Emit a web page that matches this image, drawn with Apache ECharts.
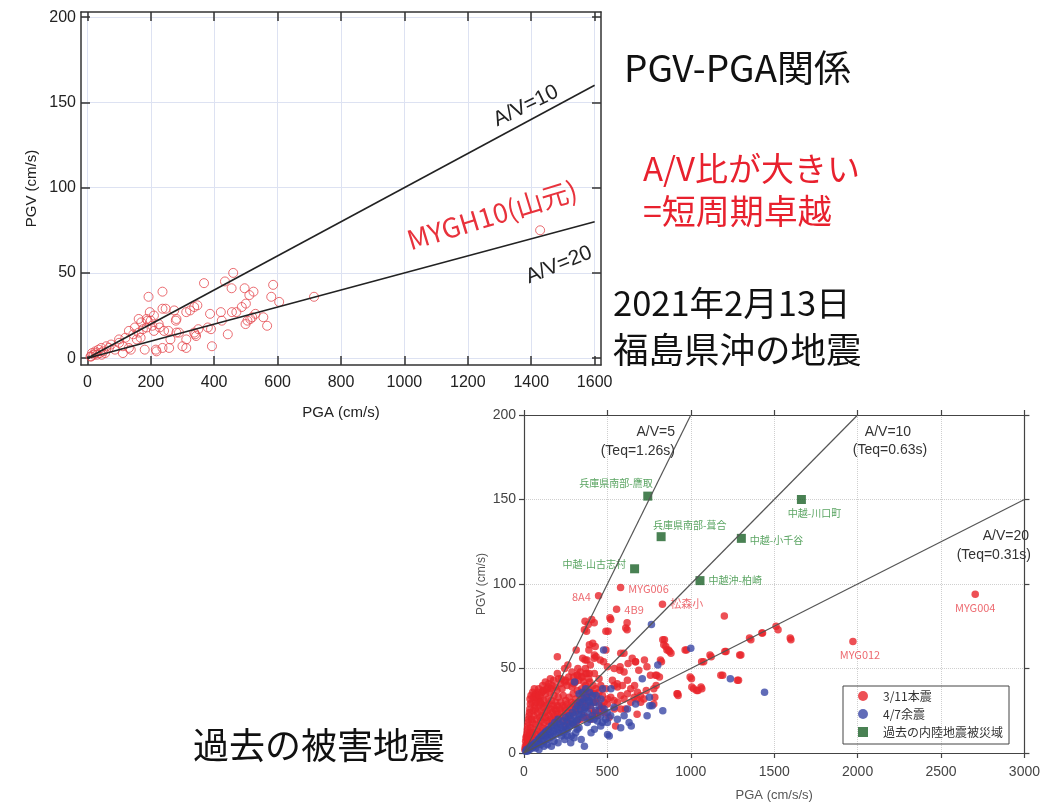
<!DOCTYPE html>
<html><head><meta charset="utf-8">
<script src="https://cdn.jsdelivr.net/npm/echarts@6/dist/echarts.min.js"></script>
<style>html,body{margin:0;padding:0;background:#fff}#c{width:1043px;height:803px}</style>
</head><body><div id="c"></div>
<script>
// ---------- top chart (2021/2/13 Fukushima-oki) ----------
const topXTicks = [0, 200, 400, 600, 800, 1000, 1200, 1400, 1600];
const topYTicks = [0, 50, 100, 150, 200];
const topPoints = [
 [1428,75],[715,36],[460,50],[434,45],[368,44],[586,43],[455,41],[496,41],[524,39],[511,37],
 [580,36],[605,33],[237,39],[193,36],[197,27],[237,29],[274,28],[312,27],[337,30],[324,28],
 [347,31],[387,26],[421,27],[456,27],[487,30],[555,24],[514,23],[505,22],[499,20],[567,19],
 [424,22],[443,14],[393,7],[380,18],[337,15],[343,13],[312,11],[312,6],[281,15],[262,11],
 [281,23],[256,16],[237,6],[218,4],[181,5],[162,15],[162,23],[187,23],[187,18],[156,11],
 [131,16],[131,6],[112,7],[112,3],[100,11],[87,5],[56,3],[44,6],[25,4],[12,1],
 [75,8],[247,29],[200,22],[279,22],[190,22],[210,16],[242,16],[289,15],[168,12],[100,9],
 [137,5],[216,5],[258,6],[300,7],[68,6],[26,3],[10,1],[30,2],[35,5],[40,3],
 [50,4],[20,2],[60,7],[15,3],[45,2],[120,12],[145,14],[175,17],[205,19],[225,20],
 [150,18],[170,21],[210,25],[228,18],[350,17],[340,14],[520,24],[530,26],[470,27],[390,17],[500,32]
];
const topLineEnds = [[1600,160],[1600,80]];   // A/V=10, A/V=20

// ---------- bottom chart (past damaging earthquakes) ----------
const botLineEnds = [[1000,200],[2000,200],[3000,150]]; // A/V=5,10,20
const mainShockLabeled = [
 ['8A4',447,93],['MYG006',579,98],['4B9',555,85],['松森小',830,88],['MYG004',2705,94],['MYG012',1972,66]
];
const mainShock = [
 [385,76],[421,77],[375,72],[520,79],[618,77],[618,73],[504,72],[1201,81],[842,67],[850,63],
 [866,61],[881,59],[974,61],[200,57],[389,61],[427,63],[377,55],[421,56],[599,59],[668,54],
 [722,55],[500,51],[575,49],[624,53],[688,49],[737,51],[287,48],[322,46],[346,45],[371,47],
 [450,44],[559,41],[1004,44],[1017,38],[1043,37],[1066,38],[1077,54],[1122,57],[1211,60],[1191,46],
 [1286,43],[1300,58],[1360,67],[1430,71],[1511,75],[1523,73],[1600,67],[924,34],[792,40],[812,45],
 [796,46],[678,23],[678,32],[608,26],[549,16],[510,21],[366,78],[406,79],[362,73],[515,80],
 [491,72],[610,74],[580,59],[313,61],[392,64],[412,65],[422,58],[432,57],[352,56],[366,55],
 [491,61],[263,52],[244,50],[323,50],[392,47],[422,47],[457,55],[477,54],[541,50],[576,51],
 [649,56],[669,54],[600,48],[620,43],[200,47],[224,44],[244,42],[299,41],[144,39],[160,38],
 [115,37],[65,34],[85,32],[36,32],[530,43],[541,40],[560,39],[590,40],[640,38],[663,40],
 [699,34],[719,32],[501,32],[465,28],[541,26],[580,26],[402,26],[422,23],[758,46],[917,35],
 [778,38],[818,55],[832,67],[838,64],[857,61],[873,60],[824,54],[788,46],[784,33],[778,29],
 [733,37],[1115,58],[1065,54],[966,61],[1180,46],[1279,43],[996,45],[1006,39],[1035,37],[1061,39],
 [921,35],[1352,68],[1426,71],[1596,68],[1204,60],[1293,58],
 [10,3],[15,5],[20,4],[20,8],[25,6],[30,10],[30,5],[35,12],[40,8],[40,15],
 [45,10],[45,20],[50,6],[50,12],[50,18],[55,25],[60,9],[60,14],[60,22],[65,28],
 [70,11],[70,17],[70,30],[75,20],[80,13],[80,24],[85,36],[90,16],[90,28],[95,21],
 [100,12],[100,19],[100,25],[100,33],[105,29],[110,15],[110,22],[115,27],[120,18],[120,31],
 [125,24],[130,14],[130,21],[130,35],[135,28],[140,19],[140,25],[145,32],[150,16],[150,22],
 [150,29],[155,36],[160,20],[160,26],[165,31],[170,18],[170,24],[175,28],[180,22],[180,34],
 [185,26],[190,20],[190,30],[195,25],[200,18],[200,23],[200,28],[205,33],[210,21],[215,26],
 [220,30],[225,24],[230,19],[230,28],[235,34],[240,22],[245,27],[250,25],[250,31],[255,20],
 [260,29],[265,24],[270,33],[275,27],[280,22],[285,30],[290,26],[295,35],[300,29],[305,24],
 [310,32],[315,27],[320,37],[325,30],[330,25],[335,34],[340,29],[345,38],[350,32],[355,27],
 [360,36],[365,31],[370,40],[375,34],[380,28],[385,38],[390,33],[395,42],[400,36],[410,30],
 [415,40],[420,35],[430,38],[440,32],[450,36],[460,40],[470,34],[480,30],[490,38],[20,14],
 [25,18],[30,22],[35,26],[15,10],[10,7],[5,2],[8,4],[12,9],[18,12],[22,16],
 [28,20],[33,24],[38,29],[42,34],[48,30],[52,36],[58,33],[62,38],[68,26],[72,35],
 [78,32],[88,38],[92,34],[98,30],[108,36],[112,40],[118,37],[128,42],[138,38],[148,41],
 [158,44],[168,40],[178,43],[188,39],[198,37],[208,44],[218,41],[228,38],[248,43],[258,40],
 [268,45],[278,42],[288,39],[298,45],[308,42],[318,46],[328,43],[338,48],[348,45],[358,42],
 [368,50],[378,47],[388,44],[398,52],
 [430,30],[450,25],[470,27],[500,29],[520,33],[540,31],[560,30],[580,34],[600,32],[620,35],
 [640,30],[660,33],[680,36],[700,30],[250,16],[270,18],[300,17],[320,19],[340,20],[360,22],
 [380,21],[400,20],[420,24],[440,22],[460,26],[480,24]
];
const aftershock = [
 [764,76],[1000,62],[802,52],[709,44],[1237,44],[1442,36],[752,33],[768,28],[754,28],[832,25],
 [738,22],[477,61],[303,42],[471,38],[521,38],[392,36],[432,34],[461,32],[669,29],[620,26],
 [630,18],[643,16],[501,11],[511,10],[362,26],[343,23],[323,20],[293,17],[263,14],[422,14],
 [402,12],[204,20],[184,18],[164,16],[125,12],[105,10],[85,8],[224,10],[244,8],[283,10],
 [164,4],[204,6],[343,8],[362,4],[46,4],[26,2],
 [10,1],[15,2],[20,1],[30,3],[35,2],[40,4],[50,3],[55,5],[60,4],[65,6],
 [70,3],[75,5],[80,7],[90,6],[95,9],[100,5],[110,8],[115,11],[120,7],[130,10],
 [135,13],[140,8],[145,11],[150,14],[155,9],[160,12],[170,10],[175,15],[180,13],[190,11],
 [195,16],[200,14],[210,12],[215,17],[220,15],[230,13],[235,19],[240,16],[250,21],[255,14],
 [260,18],[270,22],[275,16],[280,20],[290,24],[295,18],[300,22],[310,26],[315,19],[320,28],
 [330,23],[335,30],[340,26],[350,30],[355,21],[360,32],[370,27],[375,33],[380,24],[390,30],
 [395,20],[400,28],[410,22],[420,30],[430,25],[440,19],[450,28],[460,22],[470,18],[480,26],
 [490,20],[500,24],[520,22],[540,27],[560,20],[580,15],[600,22],[310,12],[330,15],[260,10],
 [240,12],[180,7],[140,5],[120,4],[90,2],[280,6],[300,9],[320,14],[380,18],[420,20],
 [460,16],[500,18],[330,35],[350,36],[370,38],[390,31],[410,34]
];
const pastQuakes = [
 ['兵庫県南部-鷹取',742,152],['兵庫県南部-葺合',822,128],['中越-山古志村',663,109],
 ['中越-小千谷',1303,127],['中越-川口町',1663,150],['中越沖-柏崎',1055,102]
];
const legendNames = ['3/11本震','4/7余震','過去の内陸地震被災域'];

// ---------- styling / layout ----------
const JP = '"Noto Sans CJK JP", "Noto Sans", sans-serif';
const SANS = '"Liberation Sans", Arial, sans-serif';
const plain = v => String(v);
const labelPlace = {
 '兵庫県南部-鷹取': {position:'top', align:'right', offset:[5,1]},
 '兵庫県南部-葺合': {position:'top', align:'left', offset:[-8,2]},
 '中越-山古志村': {position:'left', offset:[0,-5]},
 '中越-小千谷': {position:'right', offset:[0,2]},
 '中越-川口町': {position:'bottom', offset:[13,0]},
 '中越沖-柏崎': {position:'right', offset:[0,0]},
 '8A4': {position:'left', offset:[0,1]},
 'MYG006': {position:'right', offset:[0,1]},
 '4B9': {position:'right', offset:[0,0]},
 '松森小': {position:'right', offset:[0,0]},
 'MYG004': {position:'bottom', offset:[0,0]},
 'MYG012': {position:'bottom', offset:[7,0]}
};

const chart = echarts.init(document.getElementById('c'), null, {renderer:'canvas'});

function topAxisX(pos, showLabel) {
  return {
    type:'value', gridIndex:0, position:pos, min:-20, max:1620,
    axisLine:{show:true, onZero:false, lineStyle:{color:'#333', width:1.5}},
    axisTick:{show:true, inside:true, length:9, customValues:topXTicks, lineStyle:{color:'#333', width:1.5}},
    axisLabel:{show:showLabel, customValues:topXTicks, formatter:plain, fontSize:16, color:'#222', fontFamily:SANS, margin:10},
    splitLine:{show:showLabel, lineStyle:{color:'#dde2f2', width:1}},
    name: showLabel ? 'PGA (cm/s)' : '', nameLocation:'middle', nameGap:40,
    nameTextStyle:{fontSize:15, color:'#222', fontFamily:SANS}
  };
}
function topAxisY(pos, showLabel) {
  return {
    type:'value', gridIndex:0, position:pos, min:-4, max:203,
    axisLine:{show:true, onZero:false, lineStyle:{color:'#333', width:1.5}},
    axisTick:{show:true, inside:true, length:9, customValues:topYTicks, lineStyle:{color:'#333', width:1.5}},
    axisLabel:{show:showLabel, customValues:topYTicks, formatter:plain, fontSize:16, color:'#222', fontFamily:SANS, margin:5},
    splitLine:{show:showLabel, lineStyle:{color:'#dde2f2', width:1}},
    name: showLabel ? 'PGV (cm/s)' : '', nameLocation:'middle', nameGap:42,
    nameTextStyle:{fontSize:15, color:'#222', fontFamily:SANS}
  };
}
function botAxisX(pos, showLabel) {
  return {
    type:'value', gridIndex:1, position:pos, min:0, max:3000, interval:500,
    axisLine:{show:true, onZero:false, lineStyle:{color:'#444', width:1.2}},
    axisTick:{show:true, inside:false, length:5, lineStyle:{color:'#444', width:1.2}},
    axisLabel:{show:showLabel, formatter:plain, fontSize:14, color:'#444', fontFamily:SANS, margin:12},
    splitLine:{show:showLabel, lineStyle:{color:'#cfcfcf', width:1, type:'dotted'}},
    name: showLabel ? 'PGA (cm/s/s)' : '', nameLocation:'middle', nameGap:36,
    nameTextStyle:{fontSize:13, color:'#555', fontFamily:SANS}
  };
}
function botAxisY(pos, showLabel) {
  return {
    type:'value', gridIndex:1, position:pos, min:0, max:200, interval:50,
    axisLine:{show:true, onZero:false, lineStyle:{color:'#444', width:1.2}},
    axisTick:{show:true, inside:false, length:5, lineStyle:{color:'#444', width:1.2}},
    axisLabel:{show:showLabel, formatter:plain, fontSize:14, color:'#444', fontFamily:SANS, margin:8},
    splitLine:{show:showLabel, lineStyle:{color:'#cfcfcf', width:1, type:'dotted'}},
    name: showLabel ? 'PGV (cm/s)' : '', nameLocation:'middle', nameGap:36,
    nameTextStyle:{fontSize:12, color:'#555', fontFamily:SANS}
  };
}

const series = [];
series.push({
  type:'scatter', xAxisIndex:0, yAxisIndex:0, data:topPoints, symbol:'circle', symbolSize:9,
  itemStyle:{color:'rgba(255,255,255,0)', borderColor:'#e5484f', borderWidth:1}, z:2
});
topLineEnds.forEach(e => series.push({
  type:'line', xAxisIndex:0, yAxisIndex:0, data:[[0,0], e], showSymbol:false, symbol:'none',
  lineStyle:{color:'#222', width:1.6}, z:3, silent:true
}));
series.push({
  name:legendNames[0], type:'scatter', xAxisIndex:2, yAxisIndex:2, data:mainShock,
  symbol:'circle', symbolSize:7.5, itemStyle:{color:'#e8242b'}, z:2
});
series.push({
  name:legendNames[0], type:'scatter', xAxisIndex:2, yAxisIndex:2,
  data: mainShockLabeled.map(p => ({name:p[0], value:[p[1],p[2]],
    label:Object.assign({show:true}, labelPlace[p[0]])})),
  symbol:'circle', symbolSize:7.5, itemStyle:{color:'#e8242b'},
  label:{show:true, formatter:'{b}', fontSize:11, color:'#e8454c', fontFamily:JP, distance:4}, z:2
});
series.push({
  name:legendNames[1], type:'scatter', xAxisIndex:2, yAxisIndex:2, data:aftershock,
  symbol:'circle', symbolSize:7.5, itemStyle:{color:'#3a47a6'}, z:3
});
series.push({
  name:legendNames[2], type:'scatter', xAxisIndex:2, yAxisIndex:2,
  data: pastQuakes.map(p => ({name:p[0], value:[p[1],p[2]],
    label:Object.assign({show:true}, labelPlace[p[0]])})),
  symbol:'rect', symbolSize:9, itemStyle:{color:'#1b6128'},
  label:{show:true, formatter:'{b}', fontSize:10, color:'#2f8d3a', fontFamily:JP, distance:4}, z:4
});
botLineEnds.forEach(e => series.push({
  type:'line', xAxisIndex:2, yAxisIndex:2, data:[[0,0], e], showSymbol:false, symbol:'none',
  lineStyle:{color:'#555', width:1.2}, z:5, silent:true
}));

function txt(x, y, text, size, color, rot, family, align) {
  return {type:'text', x:x, y:y, rotation:(rot||0)*Math.PI/180, z:50,
    style:{text:text, fontSize:size, fill:color, fontFamily:family||JP,
      align:align||'center', verticalAlign:'middle'}};
}

const option = {
  animation:false,
  backgroundColor:'#fff',
  grid:[
    {left:81, top:12, width:520, height:353},
    {left:524, top:415, width:505, height:339}
  ],
  xAxis:[topAxisX('bottom', true), topAxisX('top', false), botAxisX('bottom', true), botAxisX('top', false)],
  yAxis:[topAxisY('left', true), topAxisY('right', false), botAxisY('left', true), botAxisY('right', false)],
  legend:{
    data:[{name:legendNames[0], icon:'circle'},{name:legendNames[1], icon:'circle'},{name:legendNames[2], icon:'rect'}],
    orient:'vertical', left:843, top:686, itemWidth:10, itemHeight:10, itemGap:4,
    padding:[3,6,5,15], borderColor:'#444', borderWidth:1, borderRadius:0,
    textStyle:{fontSize:12, color:'#333', fontFamily:JP, lineHeight:14, padding:[0,0,0,10]},
    selectedMode:false
  },
  series:series,
  graphic:[
    txt(624, 68, 'PGV-PGA関係', 37, '#111', 0, JP, 'left'),
    txt(643, 168, 'A/V比が大きい', 33, '#e8212e', 0, JP, 'left'),
    txt(643, 211, '=短周期卓越', 34, '#e8212e', 0, JP, 'left'),
    txt(613, 303, '2021年2月13日', 34.5, '#111', 0, JP, 'left'),
    txt(613, 350, '福島県沖の地震', 35.5, '#111', 0, JP, 'left'),
    txt(193, 745, '過去の被害地震', 36, '#111', 0, JP, 'left'),
    txt(526, 106, 'A/V=10', 21, '#222', 26, SANS),
    txt(559, 265, 'A/V=20', 21, '#222', 22, SANS),
    txt(492, 215, 'MYGH10(山元)', 27, '#e8323c', 17, JP),
    txt(675, 432, 'A/V=5', 14, '#333', 0, SANS, 'right'),
    txt(675, 451, '(Teq=1.26s)', 14, '#333', 0, SANS, 'right'),
    txt(888, 432, 'A/V=10', 14, '#333', 0, SANS),
    txt(890, 450, '(Teq=0.63s)', 14, '#333', 0, SANS),
    txt(1029, 536, 'A/V=20', 14, '#333', 0, SANS, 'right'),
    txt(1031, 555, '(Teq=0.31s)', 14, '#333', 0, SANS, 'right')
  ]
};
chart.setOption(option);
</script></body></html>
